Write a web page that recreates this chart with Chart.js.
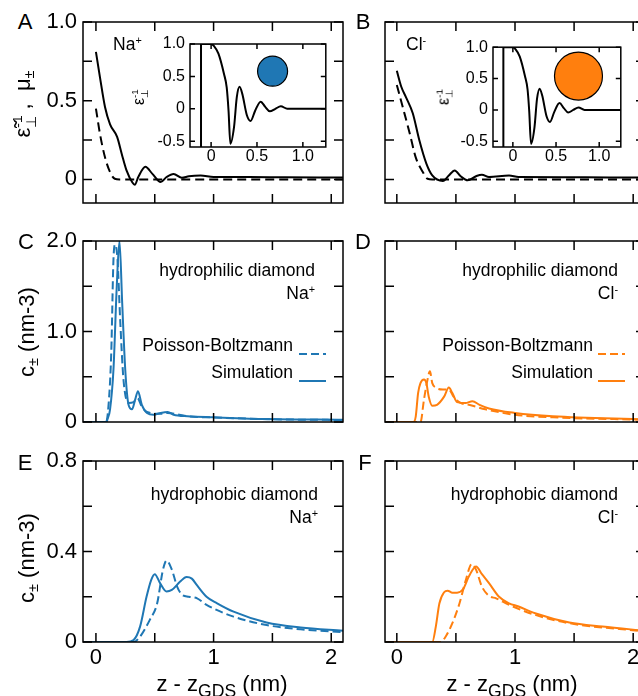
<!DOCTYPE html>
<html>
<head>
<meta charset="utf-8">
<script src="https://cdn.jsdelivr.net/npm/chart.js@4.4.0/dist/chart.umd.min.js"></script>
<style>
html, body { margin: 0; padding: 0; background: #fff; overflow: hidden; }
body { width: 638px; height: 696px; position: relative; font-family: "Liberation Sans", Arial, sans-serif; color: #000; }
canvas { position: absolute; }
.t { position: absolute; white-space: nowrap; line-height: 1; }
.t sup { font-size: .62em; vertical-align: .62em; line-height: 0; }
.t sub { font-size: .65em; vertical-align: -.3em; line-height: 0; }
.t sub.big { font-size: .8em; vertical-align: -.35em; }
.stk { display: inline-block; vertical-align: -.45em; font-size: .62em; line-height: 1.05; }
.stk span { display: block; }
</style>
</head>
<body>
<script>
// ---- data ----
const xTicks = [0, 0.5, 1, 1.5, 2];
const xLabels = ['0', '', '1', '', '2'];
const yTicksA = [0, 0.25, 0.5, 0.75, 1];
const yLabelsA = ['0', '', '0.5', '', '1.0'];
const yTicksC = [0, 0.5, 1, 1.5, 2];
const yLabelsC = ['0', '', '1.0', '', '2.0'];
const yTicksE = [0, 0.2, 0.4, 0.6, 0.8];
const yLabelsE = ['0', '', '0.4', '', '0.8'];
const xTicksIn = [0, 0.5, 1];
const xLabelsIn = ['0', '0.5', '1.0'];
const yTicksIn = [-0.5, 0, 0.5, 1];
const yLabelsIn = ['-0.5', '0', '0.5', '1.0'];

// A: Na+ dielectric profile (solid) and mu (dashed)
const epsNaZ = [0, 0.034, 0.077, 0.12, 0.18, 0.22, 0.26, 0.31, 0.33, 0.36, 0.42, 0.48, 0.55, 0.6, 0.66, 0.73, 0.79, 0.89, 1.0, 1.3, 1.6, 1.9, 2.1];
const epsNa = [0.81, 0.65, 0.46, 0.35, 0.27, 0.16, 0.057, -0.02, -0.034, 0.015, 0.08, 0.035, -0.017, 0.015, 0.035, 0.01, 0.02, 0.025, 0.015, 0.015, 0.013, 0.012, 0.012];
const muNaZ = [0, 0.034, 0.077, 0.12, 0.16, 0.2, 2.1];
const muNa = [0.45, 0.29, 0.14, 0.046, 0.004, 0, 0];
// B: Cl-
const epsClZ = [0, 0.037, 0.079, 0.135, 0.19, 0.25, 0.30, 0.39, 0.44, 0.49, 0.54, 0.60, 0.67, 0.72, 0.78, 0.95, 1.03, 1.4, 1.8, 2.1];
const epsCl = [0.69, 0.59, 0.52, 0.42, 0.25, 0.1, 0.025, -0.01, 0.025, 0.057, 0.02, -0.006, 0.02, 0.03, 0.015, 0.025, 0.015, 0.014, 0.012, 0.012];
const muClZ = [0, 0.05, 0.11, 0.16, 0.22, 0.26, 0.3, 2.1];
const muCl = [0.6, 0.46, 0.29, 0.14, 0.047, 0.004, 0, 0];
// insets: bulk epsilon^-1
const wallZ = [-0.11, -0.11];
const wallE = [-0.59, 1.0];
const insetZ = [-0.11, 0.0, 0.03, 0.08, 0.14, 0.17, 0.19, 0.21, 0.25, 0.28, 0.31, 0.34, 0.39, 0.43, 0.48, 0.54, 0.59, 0.64, 0.70, 0.76, 0.83, 0.9, 1.25];
const insetE = [1.0, 1.0, 0.97, 0.85, 0.54, 0.33, -0.03, -0.54, -0.28, 0.18, 0.34, 0.23, -0.1, -0.19, -0.03, 0.11, 0.03, -0.04, 0, 0.04, 0, 0, 0];
const ionNaZ = [0.67], ionNaY = [0.58];
const ionClZ = [0.76], ionClY = [0.54];
// C: hydrophilic, Na+
const simNaPhilZ = [-0.11, 0.09, 0.097, 0.12, 0.149, 0.177, 0.2, 0.223, 0.249, 0.277, 0.306, 0.334, 0.357, 0.39, 0.434, 0.49, 0.55, 0.61, 0.66, 0.78, 1.0, 1.46, 2.1];
const simNaPhil = [0, 0, 0.026, 0.14, 0.58, 1.5, 2.0, 1.32, 0.58, 0.19, 0.14, 0.25, 0.34, 0.19, 0.1, 0.08, 0.1, 0.11, 0.08, 0.063, 0.052, 0.033, 0.024];
const pbNaPhilZ = [-0.11, 0.086, 0.106, 0.13, 0.149, 0.163, 0.183, 0.206, 0.234, 0.277, 0.32, 0.354, 0.39, 0.434, 0.55, 0.61, 0.78, 1.0, 1.46, 2.1];
const pbNaPhil = [0, 0, 0.17, 0.76, 1.8, 1.96, 1.8, 1.13, 0.47, 0.21, 0.22, 0.26, 0.17, 0.11, 0.09, 0.1, 0.063, 0.05, 0.031, 0.022];
// D: hydrophilic, Cl-
const simClPhilZ = [-0.1, 0.14, 0.16, 0.18, 0.2, 0.23, 0.25, 0.27, 0.3, 0.34, 0.4, 0.44, 0.47, 0.51, 0.58, 0.64, 0.7, 0.78, 1.0, 1.32, 2.1];
const simClPhil = [0, 0, 0.06, 0.32, 0.43, 0.47, 0.43, 0.28, 0.18, 0.19, 0.28, 0.38, 0.32, 0.22, 0.21, 0.23, 0.19, 0.15, 0.1, 0.063, 0.03];
const pbClPhilZ = [-0.1, 0.2, 0.23, 0.26, 0.28, 0.3, 0.33, 0.39, 0.44, 0.48, 0.54, 0.61, 0.75, 1.0, 1.32, 2.1];
const pbClPhil = [0, 0, 0.25, 0.47, 0.56, 0.43, 0.38, 0.36, 0.36, 0.28, 0.21, 0.19, 0.14, 0.08, 0.052, 0.024];
// E: hydrophobic, Na+
const simNaPhobZ = [-0.11, 0.26, 0.32, 0.375, 0.43, 0.47, 0.5, 0.545, 0.6, 0.645, 0.716, 0.77, 0.815, 0.86, 0.94, 1.03, 1.17, 1.45, 1.74, 2.1];
const simNaPhob = [0, 0, 0.009, 0.068, 0.2, 0.275, 0.3, 0.26, 0.223, 0.23, 0.267, 0.287, 0.28, 0.25, 0.2, 0.171, 0.134, 0.086, 0.064, 0.05];
const pbNaPhobZ = [-0.11, 0.32, 0.375, 0.46, 0.52, 0.57, 0.6, 0.645, 0.69, 0.73, 0.79, 0.86, 0.94, 1.17, 1.45, 1.74, 2.1];
const pbNaPhob = [0, 0, 0.024, 0.1, 0.17, 0.32, 0.36, 0.32, 0.245, 0.21, 0.2, 0.193, 0.164, 0.112, 0.075, 0.056, 0.044];
// F: hydrophobic, Cl-
const simClPhobZ = [-0.1, 0.3, 0.33, 0.36, 0.4, 0.43, 0.47, 0.51, 0.56, 0.61, 0.67, 0.72, 0.78, 0.865, 0.95, 1.03, 1.17, 1.46, 1.74, 2.1];
const simClPhob = [0, 0, 0.068, 0.17, 0.22, 0.227, 0.218, 0.218, 0.233, 0.29, 0.334, 0.3, 0.26, 0.2, 0.171, 0.157, 0.127, 0.086, 0.068, 0.05];
const pbClPhobZ = [-0.1, 0.37, 0.42, 0.47, 0.53, 0.58, 0.635, 0.67, 0.72, 0.78, 0.84, 0.95, 1.17, 1.46, 2.1];
const pbClPhob = [0, 0, 0.03, 0.083, 0.17, 0.267, 0.345, 0.32, 0.245, 0.204, 0.193, 0.164, 0.12, 0.083, 0.047];

const FONT = '"Liberation Sans", Arial, sans-serif';
const blue = '#1f77b4';
const orange = '#ff7f0e';
Chart.defaults.font.family = FONT;
Chart.defaults.color = '#000';

const pts = (xs, ys) => xs.map((x, i) => ({x: x, y: ys[i]}));

function curve(xs, ys, color, dashed, dash) {
    return {
        data: pts(xs, ys),
        borderColor: color,
        borderWidth: 2,
        borderDash: dashed ? dash : [],
        pointRadius: 0,
        cubicInterpolationMode: 'monotone',
        fill: false
    };
}

// frame + inward ticks on all four sides
const frameTicks = {
    id: 'frameTicks',
    afterDatasetsDraw(chart, args, o) {
        const {ctx, chartArea: a, scales: {x, y}} = chart;
        ctx.save();
        ctx.strokeStyle = '#000';
        ctx.lineWidth = 1.5;
        ctx.beginPath();
        x.ticks.forEach(t => {
            const p = x.getPixelForValue(t.value);
            ctx.moveTo(p, a.bottom); ctx.lineTo(p, a.bottom - o.len);
            ctx.moveTo(p, a.top); ctx.lineTo(p, a.top + o.len);
        });
        y.ticks.forEach(t => {
            const p = y.getPixelForValue(t.value);
            ctx.moveTo(a.left, p); ctx.lineTo(a.left + o.len, p);
            ctx.moveTo(a.right, p); ctx.lineTo(a.right - o.len, p);
        });
        ctx.stroke();
        ctx.strokeRect(a.left, a.top, a.right - a.left, a.bottom - a.top);
        ctx.restore();
    }
};

function panel(box, cfg) {
    const yW = cfg.yW, xH = cfg.xH, padT = 22, padR = 16;
    const left = box.l - yW, top = box.t - padT;
    const cv = document.createElement('canvas');
    cv.width = box.r - left + padR;
    cv.height = box.b - top + xH;
    cv.style.left = left + 'px';
    cv.style.top = top + 'px';
    document.body.appendChild(cv);
    return new Chart(cv, {
        type: 'line',
        data: {datasets: cfg.datasets},
        options: {
            responsive: false,
            animation: false,
            events: [],
            layout: {padding: {top: padT, right: padR, left: 0, bottom: 0}},
            plugins: {legend: {display: false}, tooltip: {enabled: false}, frameTicks: {len: cfg.tickLen}},
            scales: {
                x: {
                    type: 'linear', min: cfg.xMin, max: cfg.xMax,
                    grid: {display: false, drawTicks: false}, border: {display: false},
                    afterBuildTicks: s => { s.ticks = cfg.xTicks.map(v => ({value: v})); },
                    afterFit: s => { s.height = xH; s.paddingLeft = 0; s.paddingRight = 0; },
                    ticks: {
                        display: !!cfg.xLabels, padding: cfg.xPad, maxRotation: 0,
                        font: {size: cfg.font},
                        callback: (v, i) => cfg.xLabels ? cfg.xLabels[i] : ''
                    }
                },
                y: {
                    type: 'linear', min: cfg.yMin, max: cfg.yMax,
                    grid: {display: false, drawTicks: false}, border: {display: false},
                    afterBuildTicks: s => { s.ticks = cfg.yTicks.map(v => ({value: v})); },
                    afterFit: s => { s.width = yW; s.paddingTop = 0; s.paddingBottom = 0; },
                    ticks: {
                        display: !!cfg.yLabels, padding: cfg.yPad,
                        font: {size: cfg.font},
                        callback: (v, i) => cfg.yLabels ? cfg.yLabels[i] : ''
                    }
                }
            }
        },
        plugins: [frameTicks]
    });
}

function main(box, yMin, yMax, yTicks, yLabels, showX, datasets) {
    return panel(box, {
        yW: 50, xH: showX ? 34 : 24, tickLen: 9, font: 22, xPad: 3, yPad: 6,
        xMin: box.l < 200 ? -0.11 : -0.1, xMax: 2.1, xTicks: xTicks, xLabels: showX ? xLabels : null,
        yMin: yMin, yMax: yMax, yTicks: yTicks, yLabels: yLabels, datasets: datasets
    });
}

function inset(box, ionZ, ionY, ionColor, ionR) {
    return panel(box, {
        yW: 40, xH: 26, tickLen: 5, font: 16, xPad: 0, yPad: 5,
        xMin: -0.23, xMax: 1.25, xTicks: xTicksIn, xLabels: xLabelsIn,
        yMin: -0.59, yMax: 1.0, yTicks: yTicksIn, yLabels: yLabelsIn,
        datasets: [
            {data: pts(wallZ, wallE), borderColor: '#000', borderWidth: 2, pointRadius: 0, tension: 0},
            curve(insetZ, insetE, '#000', false),
            {data: pts(ionZ, ionY), showLine: false, pointRadius: ionR, pointBackgroundColor: ionColor,
             pointBorderColor: '#000', pointBorderWidth: 1.2}
        ]
    });
}

const blackDash = [9, 5];
const colDash = [8, 4];

main({l: 83, t: 22, r: 343, b: 203}, -0.15, 1.0, yTicksA, yLabelsA, false, [
    curve(muNaZ, muNa, '#000', true, blackDash),
    curve(epsNaZ, epsNa, '#000', false)
]);
main({l: 385, t: 22, r: 645, b: 203}, -0.15, 1.0, yTicksA, null, false, [
    curve(muClZ, muCl, '#000', true, blackDash),
    curve(epsClZ, epsCl, '#000', false)
]);
main({l: 83, t: 241, r: 343, b: 422}, 0, 2, yTicksC, yLabelsC, false, [
    curve(pbNaPhilZ, pbNaPhil, blue, true, colDash),
    curve(simNaPhilZ, simNaPhil, blue, false)
]);
main({l: 385, t: 241, r: 645, b: 422}, 0, 2, yTicksC, null, false, [
    curve(pbClPhilZ, pbClPhil, orange, true, colDash),
    curve(simClPhilZ, simClPhil, orange, false)
]);
main({l: 83, t: 461, r: 343, b: 642}, 0, 0.8, yTicksE, yLabelsE, true, [
    curve(pbNaPhobZ, pbNaPhob, blue, true, colDash),
    curve(simNaPhobZ, simNaPhob, blue, false)
]);
main({l: 385, t: 461, r: 645, b: 642}, 0, 0.8, yTicksE, null, true, [
    curve(pbClPhobZ, pbClPhob, orange, true, colDash),
    curve(simClPhobZ, simClPhob, orange, false)
]);
inset({l: 190, t: 44, r: 326, b: 147}, ionNaZ, ionNaY, blue, 15);
inset({l: 493, t: 44, r: 630, b: 147}, ionClZ, ionClY, orange, 24);

// ---- text ----
function txt(html, x, y, size, anchor, rot) {
    const d = document.createElement('div');
    d.className = 't';
    d.innerHTML = html;
    d.style.left = x + 'px';
    d.style.top = y + 'px';
    d.style.fontSize = size + 'px';
    const tx = anchor === 'r' ? '-100%' : anchor === 'l' ? '0%' : '-50%';
    d.style.transform = 'translate(' + tx + ',-50%)' + (rot ? ' rotate(-90deg)' : '');
    document.body.appendChild(d);
}
function sample(x, y, color, dashed) {
    const d = document.createElement('div');
    d.style.position = 'absolute';
    d.style.left = x + 'px';
    d.style.top = (y - 3) + 'px';
    d.innerHTML = '<svg width="27" height="6"><line x1="0" y1="3" x2="27" y2="3" stroke="' + color +
        '" stroke-width="2"' + (dashed ? ' stroke-dasharray="8 4"' : '') + '/></svg>';
    document.body.appendChild(d);
}

txt('A', 25, 22, 22, 'c');
txt('B', 363, 22, 22, 'c');
txt('C', 26, 242, 22, 'c');
txt('D', 363, 242, 22, 'c');
txt('E', 25, 463, 22, 'c');
txt('F', 365, 463, 22, 'c');

txt('Na<sup>+</sup>', 113, 45, 17.5, 'l');
txt('Cl<sup>-</sup>', 406, 45, 17.5, 'l');

txt('ε\u0303<span class="stk"><span>-1</span><span>⊥</span></span> ,&nbsp; μ<sub>±</sub>', 25, 104, 22, 'c', true);
txt('ε<span class="stk"><span>-1</span><span>⊥</span></span>', 140, 97, 16, 'c', true);
txt('ε<span class="stk"><span>-1</span><span>⊥</span></span>', 445, 97, 16, 'c', true);

txt('c<sub>±</sub> (nm-3)', 27, 332, 22, 'c', true);
txt('c<sub>±</sub> (nm-3)', 27, 558, 22, 'c', true);

txt('hydrophilic diamond', 315, 271, 17.5, 'r');
txt('Na<sup>+</sup>', 315, 294, 17.5, 'r');
txt('Poisson-Boltzmann', 293, 346, 17.5, 'r');
txt('Simulation', 293, 373, 17.5, 'r');
sample(299, 346, blue, true);
sample(299, 373, blue, false);

txt('hydrophilic diamond', 618, 271, 17.5, 'r');
txt('Cl<sup>-</sup>', 618, 294, 17.5, 'r');
txt('Poisson-Boltzmann', 593, 346, 17.5, 'r');
txt('Simulation', 593, 373, 17.5, 'r');
sample(598, 346, orange, true);
sample(598, 373, orange, false);

txt('hydrophobic diamond', 318, 495, 17.5, 'r');
txt('Na<sup>+</sup>', 318, 518, 17.5, 'r');
txt('hydrophobic diamond', 618, 495, 17.5, 'r');
txt('Cl<sup>-</sup>', 618, 518, 17.5, 'r');

txt('z - z<sub class="big">GDS</sub> (nm)', 222, 684, 22, 'c');
txt('z - z<sub class="big">GDS</sub> (nm)', 512, 684, 22, 'c');
</script>
</body>
</html>
